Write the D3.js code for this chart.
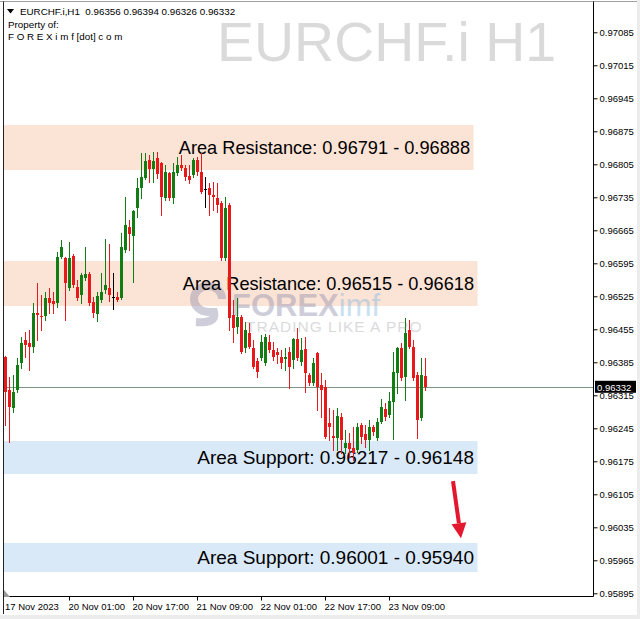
<!DOCTYPE html>
<html><head><meta charset="utf-8">
<script src="https://cdn.jsdelivr.net/npm/d3@7"></script>
<style>
html,body{margin:0;padding:0;background:#fff;}
svg{display:block;}
text{font-family:"Liberation Sans",Arial,sans-serif;}
</style></head>
<body>
<script>
// ---------- DATA ----------
const symbolTitle = "EURCHF.i,H1";
const watermarkTitle = "EURCHF.i H1";
const headerOHLC = ["0.96356", "0.96394", "0.96326", "0.96332"];

const open = [0.96396,0.96326,0.96288,0.96326,0.96384,0.96432,0.96426,0.96417,0.96490,0.96483,
0.96483,0.96521,0.96515,0.96511,0.96608,0.96606,0.96543,0.96610,0.96545,0.96528,
0.96564,0.96572,0.96513,0.96487,0.96517,0.96538,0.96543,0.96523,0.96524,0.96521,
0.96623,0.96672,0.96653,0.96712,0.96755,0.96776,0.96814,0.96795,0.96818,0.96808,
0.96734,0.96787,0.96734,0.96787,0.96804,0.96797,0.96780,0.96782,0.96814,0.96789,
0.96753,0.96755,0.96740,0.96734,0.96723,0.96606,0.96719,0.96485,0.96460,0.96481,
0.96415,0.96447,0.96415,0.96388,0.96394,0.96384,0.96428,0.96411,0.96407,0.96396,
0.96392,0.96407,0.96390,0.96434,0.96386,0.96413,0.96358,0.96341,0.96405,0.96337,
0.96333,0.96256,0.96229,0.96224,0.96269,0.96203,0.96214,0.96203,0.96199,0.96252,
0.96233,0.96220,0.96248,0.96224,0.96258,0.96286,0.96273,0.96301,0.96362,0.96415,
0.96354,0.96454,0.96417,0.96358,0.96267,0.96356];
const high = [0.96398,0.96354,0.96358,0.96394,0.96439,0.96449,0.96454,0.96511,0.96553,0.96528,
0.96534,0.96543,0.96534,0.96619,0.96644,0.96608,0.96640,0.96615,0.96560,0.96574,
0.96630,0.96577,0.96524,0.96534,0.96574,0.96647,0.96636,0.96574,0.96534,0.96659,
0.96736,0.96687,0.96708,0.96776,0.96829,0.96829,0.96825,0.96831,0.96831,0.96810,
0.96804,0.96789,0.96808,0.96820,0.96825,0.96804,0.96804,0.96818,0.96820,0.96829,
0.96778,0.96765,0.96767,0.96765,0.96727,0.96736,0.96723,0.96517,0.96521,0.96485,
0.96470,0.96468,0.96432,0.96394,0.96443,0.96445,0.96443,0.96428,0.96415,0.96411,
0.96415,0.96417,0.96437,0.96458,0.96437,0.96439,0.96362,0.96394,0.96407,0.96362,
0.96347,0.96288,0.96284,0.96288,0.96277,0.96241,0.96235,0.96248,0.96256,0.96256,
0.96252,0.96263,0.96252,0.96267,0.96307,0.96299,0.96322,0.96407,0.96417,0.96426,
0.96479,0.96475,0.96432,0.96364,0.96394,0.96394];
const low = [0.96252,0.96216,0.96280,0.96322,0.96373,0.96396,0.96369,0.96407,0.96432,0.96454,
0.96475,0.96490,0.96490,0.96502,0.96606,0.96475,0.96538,0.96545,0.96517,0.96511,
0.96560,0.96507,0.96481,0.96473,0.96513,0.96532,0.96515,0.96498,0.96515,0.96519,
0.96619,0.96623,0.96555,0.96693,0.96734,0.96774,0.96767,0.96767,0.96776,0.96697,
0.96729,0.96729,0.96723,0.96782,0.96793,0.96772,0.96765,0.96778,0.96782,0.96744,
0.96714,0.96697,0.96708,0.96704,0.96602,0.96602,0.96454,0.96428,0.96447,0.96405,
0.96407,0.96415,0.96373,0.96354,0.96390,0.96379,0.96407,0.96390,0.96384,0.96373,
0.96369,0.96330,0.96373,0.96390,0.96379,0.96322,0.96337,0.96337,0.96284,0.96269,
0.96224,0.96220,0.96199,0.96199,0.96193,0.96193,0.96184,0.96178,0.96195,0.96214,
0.96205,0.96199,0.96231,0.96220,0.96256,0.96263,0.96269,0.96222,0.96320,0.96347,
0.96305,0.96415,0.96347,0.96224,0.96263,0.96326];
const close = [0.96322,0.96290,0.96322,0.96379,0.96426,0.96422,0.96417,0.96490,0.96485,0.96481,
0.96521,0.96511,0.96509,0.96608,0.96630,0.96553,0.96606,0.96549,0.96521,0.96570,
0.96572,0.96511,0.96490,0.96526,0.96534,0.96549,0.96528,0.96523,0.96517,0.96630,
0.96676,0.96657,0.96706,0.96755,0.96778,0.96812,0.96795,0.96812,0.96784,0.96736,
0.96789,0.96734,0.96789,0.96804,0.96797,0.96778,0.96772,0.96814,0.96789,0.96746,
0.96753,0.96740,0.96736,0.96719,0.96606,0.96712,0.96479,0.96458,0.96481,0.96407,
0.96454,0.96417,0.96375,0.96364,0.96428,0.96439,0.96411,0.96396,0.96400,0.96384,
0.96396,0.96375,0.96434,0.96394,0.96411,0.96362,0.96341,0.96384,0.96333,0.96326,
0.96227,0.96248,0.96224,0.96271,0.96220,0.96214,0.96201,0.96193,0.96248,0.96227,
0.96220,0.96248,0.96237,0.96258,0.96290,0.96269,0.96303,0.96364,0.96415,0.96352,
0.96447,0.96417,0.96352,0.96263,0.96358,0.96332];

const timeTickIndex = [0, 16, 32, 48, 64, 80, 96];
const timeTickLabels = ["17 Nov 2023","20 Nov 01:00","20 Nov 17:00","21 Nov 09:00","22 Nov 01:00","22 Nov 17:00","23 Nov 09:00"];

const priceTicks = [0.97085,0.97015,0.96945,0.96875,0.96805,0.96735,0.96665,0.96595,0.96525,
0.96455,0.96385,0.96315,0.96245,0.96175,0.96105,0.96035,0.95965,0.95895];
const currentPrice = 0.96332;

const zoneLow   = [0.96793, 0.96504, 0.96148, 0.95940];
const zoneHigh  = [0.96888, 0.96600, 0.96218, 0.96002];
const zoneEnd   = [117, 118, 118, 118];
const zoneKind  = ["res", "res", "sup", "sup"];
const zoneLabels = ["Area Resistance: 0.96791 - 0.96888","Area Resistance: 0.96515 - 0.96618",
                    "Area Support: 0.96217 - 0.96148","Area Support: 0.96001 - 0.95940"];

const arrowFrom = [112, 0.96133];
const arrowTo   = [114, 0.96012];

// ---------- CHART ----------
const W = 640, H = 619;
const plotLeft = 3.5, plotRight = 593.5, plotTop = 1.5, plotBottom = 596.5;
const svg = d3.select("body").append("svg").attr("width", W).attr("height", H);

svg.append("rect").attr("width", W).attr("height", H).attr("fill", "#fff");
svg.append("rect").attr("x", 0).attr("y", 615).attr("width", W).attr("height", 4).attr("fill", "#ececec");
svg.append("rect").attr("x", 637).attr("y", 0).attr("width", 3).attr("height", H).attr("fill", "#ececec");

const x = d3.scaleLinear().domain([0, 105]).range([5, 425]);
const y = d3.scaleLinear().domain([0.95895, 0.97085]).range([593.3, 32.3]);
const cx = i => Math.round(x(i)) + 0.5;

// big title watermark
svg.append("text").attr("x", 217).attr("y", 61)
  .attr("font-size", 55.5).attr("fill", "#dadada").text(watermarkTitle);

// zones
const zoneFill = {res: "#fbe3d6", sup: "#dae9f7"};
const zg = svg.append("g");
zoneLow.forEach((lo, k) => {
  const y1 = Math.round(y(zoneHigh[k])), y2 = Math.round(y(lo));
  zg.append("rect").attr("x", plotLeft + 0.5).attr("y", y1)
    .attr("width", Math.round(x(zoneEnd[k])) - plotLeft).attr("height", y2 - y1)
    .attr("fill", zoneFill[zoneKind[k]]);
});

// FOREXimf logo watermark
const lg = svg.append("g").attr("opacity", 0.42);
lg.append("path")
  .attr("d", "M222,299 A14,13 0 1 0 208,312 L214,312 C216,320 210,323 196,322")
  .attr("fill", "none").attr("stroke", "#8c8ca8").attr("stroke-width", 8);
const lt = lg.append("text").attr("x", 232).attr("y", 316).attr("font-size", 31)
  .attr("font-weight", "bold");
lt.append("tspan").attr("fill", "#8c8ca8").text("FOREX");
lt.append("tspan").attr("fill", "#7fb6e0").attr("font-weight", "normal").text("imf");
lg.append("text").attr("x", 246).attr("y", 332).attr("font-size", 15.5)
  .attr("letter-spacing", 1).attr("fill", "#a8a8b0").text("TRADING LIKE A PRO");

// zone labels
const zoneFont = {res: 18.2, sup: 19};
zoneLow.forEach((lo, k) => {
  svg.append("text").attr("x", Math.round(x(zoneEnd[k])) - 3)
    .attr("y", (y(lo) + y(zoneHigh[k])) / 2).attr("dy", "0.35em")
    .attr("text-anchor", "end").attr("font-size", zoneFont[zoneKind[k]]).attr("fill", "#000")
    .text(zoneLabels[k]);
});

// current price line
svg.append("line").attr("x1", plotLeft).attr("x2", plotRight)
  .attr("y1", Math.round(y(currentPrice)) + 0.5).attr("y2", Math.round(y(currentPrice)) + 0.5)
  .attr("stroke", "#7f9483").attr("stroke-width", 1);

// candles
const bull = "#127d12", bear = "#e8191b";
const cg = svg.append("g");
open.forEach((o, i) => {
  const c = close[i];
  const col = o === c ? "#000" : (c > o ? bull : bear);
  const px = cx(i);
  cg.append("line").attr("x1", px).attr("x2", px)
    .attr("y1", Math.round(y(high[i]))).attr("y2", Math.round(y(low[i])) + 1)
    .attr("stroke", col).attr("stroke-width", 1);
  const top = Math.round(y(Math.max(o, c))), bot = Math.round(y(Math.min(o, c)));
  cg.append("rect").attr("x", px - 1.5).attr("y", top).attr("width", 3)
    .attr("height", Math.max(1, bot - top)).attr("fill", col);
});

// arrow
const ax1 = x(arrowFrom[0]), ay1 = y(arrowFrom[1]), ax2 = x(arrowTo[0]), ay2 = y(arrowTo[1]);
const ang = Math.atan2(ay2 - ay1, ax2 - ax1);
const hl = 15, hw = 7.5;
const bx = ax2 - hl * Math.cos(ang), by = ay2 - hl * Math.sin(ang);
svg.append("line").attr("x1", ax1).attr("y1", ay1).attr("x2", bx).attr("y2", by)
  .attr("stroke", "#e3172d").attr("stroke-width", 4);
svg.append("path").attr("d", d3.line()([
  [ax2, ay2],
  [bx + hw * Math.sin(ang), by - hw * Math.cos(ang)],
  [bx - hw * Math.sin(ang), by + hw * Math.cos(ang)]
]) + "Z").attr("fill", "#e3172d");

// frame
svg.append("line").attr("x1", 0).attr("x2", 637).attr("y1", plotTop).attr("y2", plotTop)
  .attr("stroke", "#a0a0a0");
svg.append("line").attr("x1", plotLeft).attr("x2", plotLeft).attr("y1", plotTop).attr("y2", 614)
  .attr("stroke", "#222");
svg.append("line").attr("x1", plotLeft).attr("x2", plotRight).attr("y1", plotBottom).attr("y2", plotBottom)
  .attr("stroke", "#000");

// right axis
const yAxis = d3.axisRight(y).tickValues(priceTicks).tickSize(4).tickPadding(2)
  .tickFormat(d3.format(".5f"));
const ya = svg.append("g").attr("transform", `translate(${plotRight},0)`).call(yAxis);
ya.select(".domain").attr("d", `M0,${plotTop}V${plotBottom}`).attr("stroke", "#000");
ya.selectAll(".tick line").attr("stroke", "#000");
ya.selectAll(".tick text").attr("font-size", 9.5).attr("fill", "#000")
  .attr("font-family", '"Liberation Sans",Arial,sans-serif');

// current price box
const cpy = y(currentPrice);
svg.append("rect").attr("x", 595).attr("y", cpy - 6.5).attr("width", 41).attr("height", 12).attr("fill", "#000");
svg.append("text").attr("x", 597).attr("y", cpy).attr("dy", "0.34em").attr("font-size", 9.5)
  .attr("fill", "#fff").text(d3.format(".5f")(currentPrice));

// time axis
const tg = svg.append("g");
timeTickIndex.forEach((ti, k) => {
  const px = cx(ti);
  if (k > 0) tg.append("line").attr("x1", px).attr("x2", px).attr("y1", plotBottom).attr("y2", plotBottom + 4)
    .attr("stroke", "#000");
  tg.append("text").attr("x", k === 0 ? 5 : px - 1).attr("y", 610).attr("font-size", 9.5)
    .attr("fill", "#000").text(timeTickLabels[k]);
});
svg.append("path").attr("d", "M4,590 L10,597 L4,597 Z").attr("fill", "#9a9a9a");

// header
svg.append("path").attr("d", "M7,9 L14,9 L10.5,13.5 Z").attr("fill", "#000");
svg.append("text").attr("x", 20).attr("y", 15).attr("font-size", 9.8).attr("fill", "#000")
  .style("white-space", "pre").text(symbolTitle + "  " + headerOHLC.join(" "));
svg.append("text").attr("x", 8).attr("y", 28).attr("font-size", 9.8).attr("fill", "#000").text("Property of:");
svg.append("text").attr("x", 8).attr("y", 40).attr("font-size", 9.8).attr("fill", "#000")
  .style("white-space", "pre").text("F O R E X i m f [dot] c o m");
</script>
</body></html>
